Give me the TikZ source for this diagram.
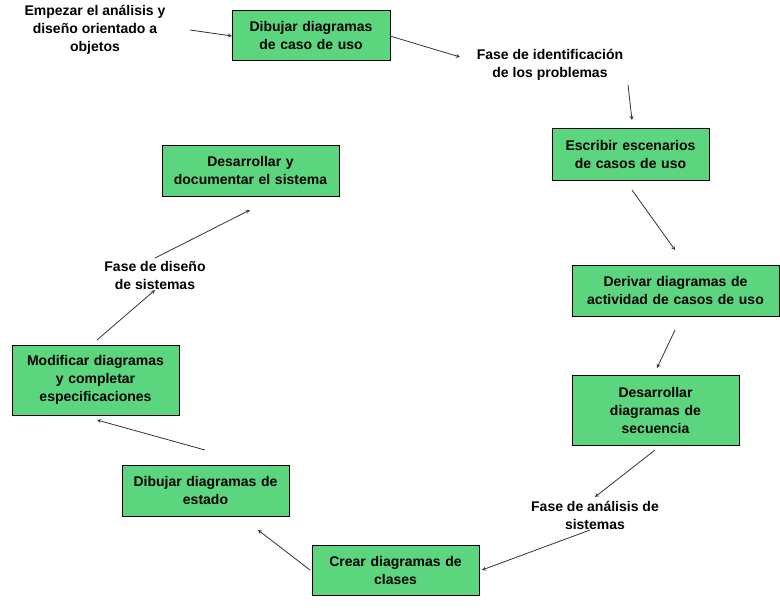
\documentclass[tikz,border=0pt]{standalone}
\usepackage{fontspec}
\setmainfont{Liberation Sans}
\begin{document}
\begin{tikzpicture}[x=1pt,y=-1pt,
 box/.style={draw=black,fill=boxgreen,line width=0.8pt,font=\bfseries\fontsize{14}{18}\selectfont,align=center,inner sep=0pt},
 lbl/.style={font=\bfseries\fontsize{14}{18}\selectfont,align=center,fill=white,inner sep=1pt},
 arr/.style={draw=black!80,line width=0.8pt,-stealth}]
\definecolor{boxgreen}{HTML}{5BD67F}
\useasboundingbox (0,0) rectangle (780,610);
\def\bx#1#2#3#4#5#6{\node[box,minimum width=#4-#2,minimum height=#5-#3,text width=#4-#2-6] (#1) at ({(#2+#4)/2},{(#3+#5)/2}) {#6};}
\bx{b1}{232}{10}{390}{60}{Dibujar diagramas\\de caso de uso}
\bx{b2}{552}{128}{709}{180}{Escribir escenarios\\de casos de uso}
\bx{b3}{572}{265}{779}{316}{Derivar diagramas de\\actividad de casos de uso}
\bx{b4}{572}{375}{739}{445}{Desarrollar\\diagramas de\\secuencia}
\bx{b5}{312}{545}{479}{595}{Crear diagramas de\\clases}
\bx{b6}{122}{465}{289}{516}{Dibujar diagramas de\\estado}
\bx{b7}{12}{345}{179}{415}{Modificar diagramas\\y completar\\especificaciones}
\bx{b8}{162}{145}{339}{196}{Desarrollar y\\documentar el sistema}
\node[lbl] (l0) at (95,30) {Empezar el análisis y\\diseño orientado a\\objetos};
\node[lbl] (l1) at (550,65) {Fase de identificación\\de los problemas};
\node[lbl] (l2) at (595,515) {Fase de análisis de\\sistemas};
\node[lbl] (l3) at (155,275) {Fase de diseño\\de sistemas};
\coordinate (a1) at (190,30); \coordinate (a2) at (232,36);
\coordinate (a3) at (390,36); \coordinate (a4) at (460,57);
\coordinate (a5) at (628,85); \coordinate (a6) at (632,120);
\coordinate (a7) at (632,190); \coordinate (a8) at (675,250);
\coordinate (a9) at (675,330); \coordinate (a10) at (657,368);
\coordinate (a11) at (655,450); \coordinate (a12) at (595,497);
\coordinate (a13) at (590,530); \coordinate (a14) at (482,570);
\coordinate (a15) at (310,570); \coordinate (a16) at (258,530);
\coordinate (a17) at (205,450); \coordinate (a18) at (97,420);
\coordinate (a19) at (97,340); \coordinate (a20) at (155,290);
\coordinate (a21) at (155,258); \coordinate (a22) at (250,210);
\begin{scope}[on background layer/.style={}]
\foreach \s/\e in {a1/a2,a3/a4,a5/a6,a7/a8,a9/a10,a11/a12,a13/a14,a15/a16,a17/a18,a19/a20,a21/a22}
 \draw[arr] (\s) -- (\e);
\end{scope}
\end{tikzpicture}
\end{document}
